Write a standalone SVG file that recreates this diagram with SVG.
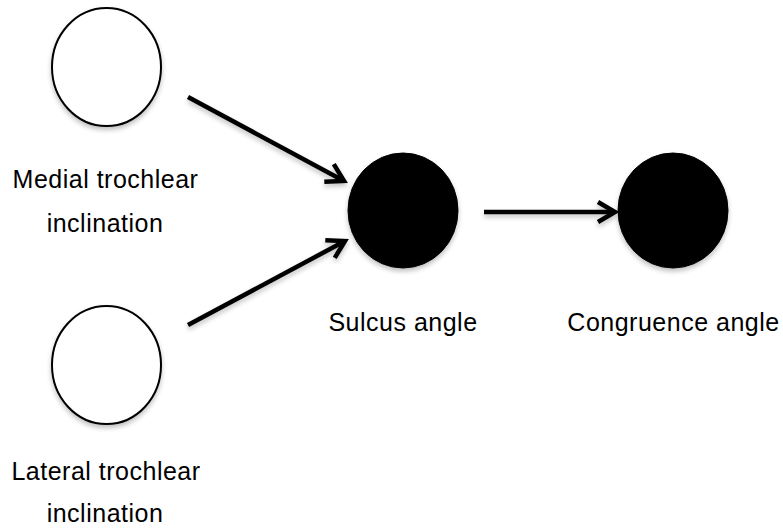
<svg xmlns="http://www.w3.org/2000/svg" width="783" height="530" viewBox="0 0 783 530">
<style>
  .lbl{font-family:"Liberation Sans",Arial,Helvetica,sans-serif;font-size:25px;fill:#000;text-anchor:middle;letter-spacing:0.5px}
  .open{fill:#fff;stroke:#000;stroke-width:2}
  .solid{fill:#000;stroke:#000;stroke-width:1}
  .edge{stroke:#000;stroke-width:4.5;fill:none}
</style>
<defs>
  <filter id="sh" x="-20%" y="-20%" width="140%" height="150%">
    <feGaussianBlur in="SourceAlpha" stdDeviation="2.5"/>
    <feOffset dx="0" dy="3" result="b"/>
    <feComponentTransfer><feFuncA type="linear" slope="0.25"/></feComponentTransfer>
    <feMerge><feMergeNode/><feMergeNode in="SourceGraphic"/></feMerge>
  </filter>
  <marker id="arr" markerUnits="userSpaceOnUse" viewBox="-22 -14 26 28" markerWidth="26" markerHeight="28" refX="0" refY="0" orient="auto">
    <path d="M-17,-10 L0,0 L-17,10" fill="none" stroke="#000" stroke-width="4.5" stroke-linejoin="miter"/>
  </marker>
</defs>
<rect width="783" height="530" fill="#fff"/>
<g id="medial">
  <ellipse class="open" cx="106.5" cy="67" rx="54.5" ry="59" filter="url(#sh)"/>
  <text class="lbl" x="105.5" y="187.5">Medial trochlear</text>
  <text class="lbl" x="105" y="231.5">inclination</text>
</g>
<g id="lateral">
  <ellipse class="open" cx="106.5" cy="365" rx="54.5" ry="59" filter="url(#sh)"/>
  <text class="lbl" x="106" y="480">Lateral trochlear</text>
  <text class="lbl" x="105" y="521.5">inclination</text>
</g>
<g id="sulcus">
  <ellipse class="solid" cx="403" cy="210.5" rx="55" ry="57.5" filter="url(#sh)"/>
  <text class="lbl" x="403" y="331">Sulcus angle</text>
</g>
<g id="congruence">
  <ellipse class="solid" cx="673" cy="210.5" rx="55" ry="57.5" filter="url(#sh)"/>
  <text class="lbl" x="673.5" y="331">Congruence angle</text>
</g>
<g id="connectors" filter="url(#sh)">
  <line class="edge" x1="188" y1="97" x2="344" y2="181" marker-end="url(#arr)"/>
  <line class="edge" x1="188" y1="325" x2="345" y2="241" marker-end="url(#arr)"/>
  <line class="edge" x1="484" y1="212" x2="615" y2="212" marker-end="url(#arr)"/>
</g>
</svg>
